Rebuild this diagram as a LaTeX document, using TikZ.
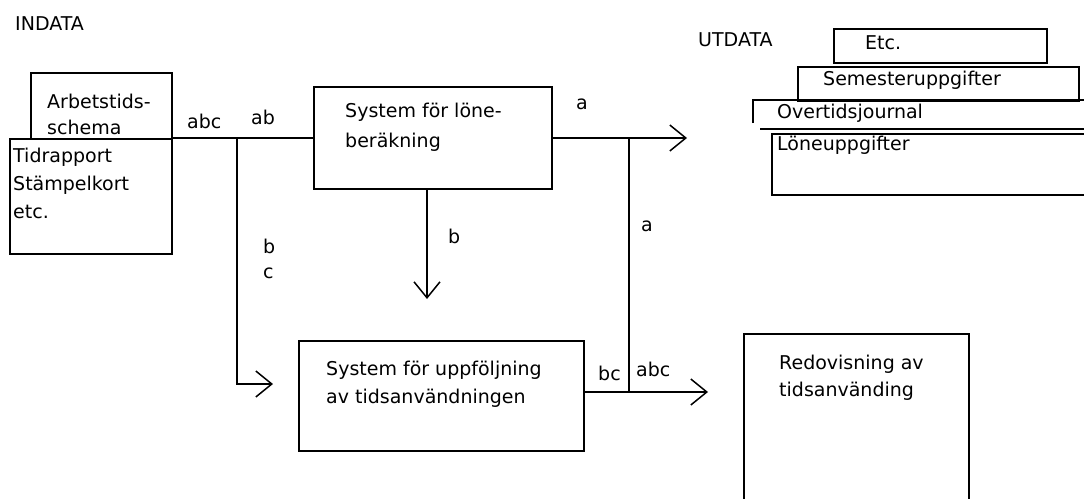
\documentclass[tikz,border=0pt]{standalone}
\usepackage{fontspec}
\setmainfont{DejaVu Sans}
\usetikzlibrary{arrows.meta}
\begin{document}
\begin{tikzpicture}[x=1pt,y=-1pt,
  boxs/.style={draw, line width=1.5pt, inner sep=0pt, anchor=north west},
  lbl/.style={anchor=base west, inner sep=0pt, font=\fontsize{19}{28}\selectfont},
  conn/.style={line width=1.5pt},
  arr/.style={conn, -{Straight Barb[length=16pt,width=26pt]}}]
\useasboundingbox (0,0) rectangle (1084,498);
\clip (0,0) rectangle (1084,498);
% boxes
\node[boxs, minimum width=141pt, minimum height=66pt] (arb) at (30,72) {};
\node[boxs, minimum width=162pt, minimum height=115pt] (tid) at (9,138) {};
\node[boxs, minimum width=238pt, minimum height=102pt] (sys1) at (313,86) {};
\node[boxs, minimum width=285pt, minimum height=110pt] (sys2) at (298,340) {};
\node[boxs, minimum width=225pt, minimum height=190pt] (redov) at (743,333) {};
\node[boxs, minimum width=213pt, minimum height=34pt] (etcb) at (833,28) {};
\node[boxs, minimum width=281pt, minimum height=34pt] (sem) at (797,66) {};
\node[boxs, minimum width=330pt, minimum height=61pt] (lone) at (771,133) {};
\draw[conn] (753,123) -- (753,100) -- (1095,100);
\draw[conn] (760,129) -- (1095,129);
% texts
\node[lbl] (tIn) at (15,30) {INDATA};
\node[lbl] (tUt) at (698,46) {UTDATA};
\node[lbl] (tEtc) at (865,49) {Etc.};
\node[lbl] (tSem) at (823,85) {Semesteruppgifter};
\node[lbl] (tOv) at (777,118) {Overtidsjournal};
\node[lbl] (tLo) at (777,150) {Löneuppgifter};
\node[lbl] (tArb1) at (47,108) {Arbetstids-};
\node[lbl] (tArb2) at (47,134) {schema};
\node[lbl] (tT1) at (13,162) {Tidrapport};
\node[lbl] (tT2) at (13,190) {Stämpelkort};
\node[lbl] (tT3) at (13,218) {etc.};
\node[lbl] (tS1a) at (345,117) {System för löne-};
\node[lbl] (tS1b) at (345,147) {beräkning};
\node[lbl] (tS2a) at (326,375) {System för uppföljning};
\node[lbl] (tS2b) at (326,403) {av tidsanvändningen};
\node[lbl] (tR1) at (779,369) {Redovisning av};
\node[lbl] (tR2) at (779,396) {tidsanvänding};
% connector labels
\node[lbl] (lAbc1) at (187,128) {abc};
\node[lbl] (lAb) at (251,124) {ab};
\node[lbl] (lB1) at (263,253) {b};
\node[lbl] (lC1) at (263,278) {c};
\node[lbl] (lA1) at (576,109) {a};
\node[lbl] (lA2) at (641,231) {a};
\node[lbl] (lB2) at (448,243) {b};
\node[lbl] (lBc) at (598,380) {bc};
\node[lbl] (lAbc2) at (636,376) {abc};
% connectors
\coordinate (j1) at (237,138);
\coordinate (tipC) at (273,384);
\coordinate (tipA) at (687,138);
\coordinate (j2) at (629,138);
\coordinate (j3) at (629,392);
\coordinate (tipB) at (427,299);
\coordinate (tipD) at (708,392);
\draw[conn] (tid.north east) -- (tid.north east -| sys1.west);
\draw[arr] (j1) |- (tipC);
\draw[arr] (sys1.east |- tipA) -- (tipA);
\draw[arr] (sys1.south -| tipB) -- (tipB);
\draw[conn] (j2) -- (j3);
\draw[arr] (sys2.east |- tipD) -- (tipD);
\end{tikzpicture}
\end{document}
